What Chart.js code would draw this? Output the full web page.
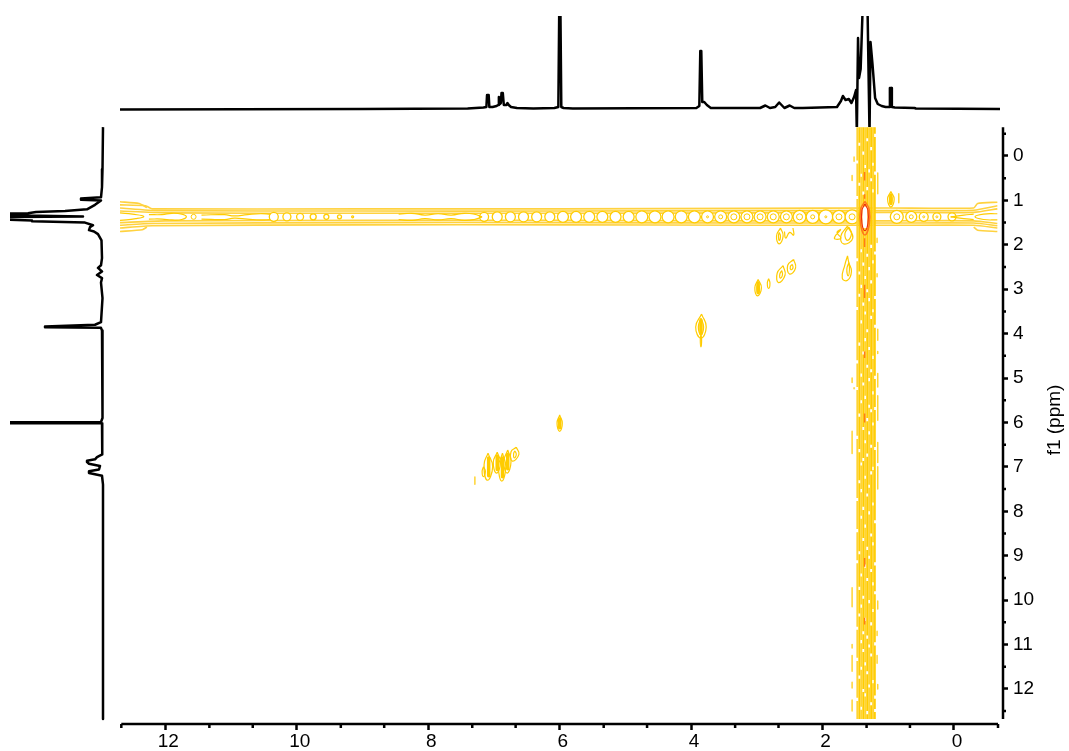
<!DOCTYPE html>
<html>
<head>
<meta charset="utf-8">
<title>COSY spectrum</title>
<script src="https://cdn.jsdelivr.net/npm/chart.js@4"></script>
<style>
  html, body { margin: 0; padding: 0; background: #fff; }
  canvas { position: absolute; }
</style>
</head>
<body>
<canvas id="main" width="1069" height="751" style="left:0;top:0"></canvas>
<canvas id="topTrace" width="883" height="111" style="left:120px;top:16px"></canvas>
<canvas id="leftTrace" width="112" height="597" style="left:10px;top:127px"></canvas>
<script>
// axis ticks (ppm)
const xTicks = [12, 10, 8, 6, 4, 2, 0];
const xMinorTicks = [12.67, 11.33, 10.67, 9.33, 8.67, 7.33, 6.67, 5.33, 4.67, 3.33, 2.67, 1.33, 0.67, -0.67];
const yTicks = [0, 1, 2, 3, 4, 5, 6, 7, 8, 9, 10, 11, 12];
const yMinorTicks = [-0.5, 0.5, 1.5, 2.5, 3.5, 4.5, 5.5, 6.5, 7.5, 8.5, 9.5, 10.5, 11.5, 12.5];

// 1D proton trace on top
const topPpm = [12.69, 9, 7.4, 7.16, 7.115, 7.105, 7.08, 7.07, 7.02, 6.96, 6.935, 6.925, 6.91, 6.895, 6.885, 6.865, 6.85, 6.81, 6.795, 6.775, 6.74, 6.65, 6.4, 6.08, 6.02, 6.005, 5.99, 5.975, 5.94, 5.8, 3.92, 3.875, 3.86, 3.845, 3.83, 3.8, 3.76, 3.7, 2.95, 2.87, 2.8, 2.72, 2.66, 2.58, 2.5, 2.43, 2.3, 1.78, 1.72, 1.69, 1.65, 1.6, 1.56, 1.52, 1.49, 1.478, 1.46, 1.445, 1.42, 1.38, 1.32, 1.285, 1.27, 1.24, 1.2, 1.16, 1.1, 1.04, 0.985, 0.975, 0.955, 0.945, 0.9, 0.6, 0.58, -0.7];
const topIntensity = [-0.5, 0, 0.5, 1.5, 2, 14, 14, 2, 2, 3, 4, 12, 5, 6, 16, 16, 4, 4, 6, 4, 2, 1, 0.5, 1, 2, 110, 110, 2, 1, 0.5, 1, 3, 58, 58, 7, 7, 4, 1, 1, 3.5, 1, 2, 6.5, 1, 3.5, 1, 1, 2, 8, 13, 9, 10, 6, 12, 19, -25, 71, 31, 40, 120, 120, -25, 67, 45, 11, 5, 3, 2, 2, 21, 21, 2, 1.5, 1, 0.5, 0];

// same trace turned sideways on the left
const leftPpm = [-0.65, 0.3, 0.7, 0.93, 0.955, 0.985, 1.0, 1.1, 1.2, 1.24, 1.26, 1.29, 1.3, 1.33, 1.36, 1.38, 1.42, 1.45, 1.47, 1.5, 1.56, 1.6, 1.67, 1.7, 1.76, 1.9, 2.3, 2.46, 2.52, 2.6, 2.68, 2.75, 2.85, 3.2, 3.74, 3.8, 3.84, 3.855, 3.87, 3.93, 5.9, 5.99, 5.995, 6.015, 6.02, 6.5, 6.72, 6.78, 6.83, 6.86, 6.89, 6.93, 6.98, 7.06, 7.1, 7.14, 7.2, 7.4, 12.68];
const leftIntensity = [0, 0.5, 1, 2, 22, 22, 2, 8, 16, 38, 67, 75, 110, 110, 20, 110, 110, 71, 71, 18, 10, 13, 14, 9, 5, 1.5, 1, 2, 5, 1, 6, 1, 2, 0.5, 2, 8, 58, 58, 2, 1, 0.5, 2, 110, 110, 1, 0.5, 1, 6, 8, 16, 16, 14, 3, 4, 14, 14, 1, 0, 0];

// contour rings sitting on the f1 = 1.37 ppm ridge
const ridgeY = 1.37;
const ringPpm = [10.35, 10.15, 9.95, 9.75, 9.55, 9.35, 9.15, 7.15, 6.95, 6.75, 6.55, 6.35, 6.15, 5.95, 5.75, 5.55, 5.35, 5.15, 4.95, 4.75, 4.55, 4.35, 4.15, 3.95, 3.75, 3.55, 3.35, 3.15, 2.95, 2.75, 2.55, 2.35, 2.15, 1.95, 1.75, 1.55, 0.87, 0.65, 0.46, 0.26, 0.03];
const ringSize = [4.5, 4, 3.5, 3, 2.5, 2, 1, 4.5, 5, 5, 5, 5, 5, 5.5, 5.5, 5.5, 5.5, 5.5, 5.5, 6, 6, 6, 6, 6, 6, 6, 6, 6, 6, 6, 6, 6.5, 6.5, 7, 6.5, 7, 6.5, 5.5, 4.5, 4, 4];
const innerRingPpm = [3.75, 3.55, 3.35, 3.15, 2.95, 2.75, 2.55, 2.35, 2.15, 1.95, 1.75, 1.55, 0.87, 0.65, 0.46, 0.26, 11.57];
const innerRingSize = [1, 2, 3, 3, 3, 3, 3, 3, 2, 1, 3, 3, 3, 2, 1, 1, 2.5];

// lines of the ridge walls, as ppm pairs
const wallTopA = [[12.69, 1.03], [12.4, 1.07], [12.28, 1.16]];
const wallTopB = [[12.69, 1.1], [12.3, 1.12], [12.2, 1.19], [9, 1.19], [6, 1.19], [3, 1.18], [1, 1.17], [-0.3, 1.17], [-0.36, 1.07], [-0.66, 1.04]];
const wallTopC = [[12.69, 1.17], [12.1, 1.23], [9, 1.24], [6, 1.24], [3, 1.23], [1, 1.23], [-0.3, 1.22], [-0.66, 1.12]];
const wallTopD = [[12.69, 1.24], [12, 1.28], [9, 1.29], [6, 1.29], [3, 1.28], [1, 1.27], [-0.3, 1.27], [-0.66, 1.19]];
const wallBottomA = [[12.69, 1.5], [12, 1.46], [9, 1.45], [6, 1.45], [3, 1.46], [1, 1.46], [-0.3, 1.46], [-0.66, 1.52]];
const wallBottomB = [[12.69, 1.56], [12.2, 1.52], [9, 1.5], [6, 1.5], [3, 1.51], [1, 1.51], [-0.3, 1.51], [-0.66, 1.57]];
const wallBottomC = [[12.69, 1.62], [12.2, 1.57], [9, 1.55], [6, 1.55], [3, 1.56], [1, 1.56], [-0.3, 1.56], [-0.66, 1.62]];
const wallBottomD = [[12.69, 1.7], [12.35, 1.66], [12.28, 1.6]];
const wallBottomE = [[-0.3, 1.6], [-0.36, 1.67], [-0.66, 1.7]];

// inner wavy contours of the ridge
const waveA = [[12.69, 1.28], [12.5, 1.31], [12.33, 1.36], [12.45, 1.41], [12.69, 1.45]];
const waveB = [[12.25, 1.32], [12.05, 1.32], [11.9, 1.29], [11.75, 1.31], [11.68, 1.37], [11.75, 1.43], [11.9, 1.44], [12.05, 1.42], [12.25, 1.42]];
const waveC = [[11.45, 1.33], [11.1, 1.32], [10.95, 1.35], [10.75, 1.32], [10.55, 1.3], [10.4, 1.31]];
const waveD = [[11.45, 1.42], [11.1, 1.43], [10.95, 1.4], [10.75, 1.42], [10.55, 1.44], [10.4, 1.43]];
const waveE = [[8.45, 1.31], [8.25, 1.29], [8.05, 1.33], [7.85, 1.3], [7.65, 1.33], [7.45, 1.29], [7.3, 1.31], [7.18, 1.37]];
const waveF = [[8.45, 1.43], [8.25, 1.45], [8.05, 1.41], [7.85, 1.44], [7.65, 1.41], [7.45, 1.45], [7.3, 1.43], [7.18, 1.37]];
const waveG = [[-0.66, 1.3], [-0.45, 1.31], [-0.32, 1.37], [-0.45, 1.43], [-0.66, 1.44]];
const waveH = [[-0.3, 1.31], [-0.15, 1.33], [0.05, 1.37]];
const waveI = [[-0.3, 1.43], [-0.15, 1.41], [0.05, 1.37]];

// diagonal and cross peaks, outlines in ppm
const peak6a = [[6.0, 5.83], [6.04, 6.02], [6.0, 6.2], [5.96, 6.02], [6.0, 5.83]];
const peak38a = [[3.84, 3.56], [3.93, 3.85], [3.85, 4.1], [3.77, 3.85], [3.84, 3.56]];
const peak38b = [[3.85, 3.65], [3.89, 3.85], [3.85, 4.02], [3.81, 3.85], [3.85, 3.65]];
const peak38d = [[3.85, 4.0], [3.86, 4.15], [3.85, 4.3], [3.84, 4.15], [3.85, 4.0]];
const peak298a = [[2.98, 2.78], [3.03, 2.97], [2.99, 3.15], [2.93, 2.97], [2.98, 2.78]];
const peak298b = [[2.98, 2.86], [3.0, 2.97], [2.98, 3.08], [2.96, 2.97], [2.98, 2.86]];
const peak282 = [[2.82, 2.76], [2.84, 2.86], [2.82, 2.98], [2.8, 2.86], [2.82, 2.76]];
const peak263a = [[2.6, 2.47], [2.69, 2.64], [2.67, 2.85], [2.57, 2.68], [2.6, 2.47]];
const peak263b = [[2.62, 2.58], [2.65, 2.66], [2.64, 2.75], [2.61, 2.68], [2.62, 2.58]];
const peak247a = [[2.44, 2.33], [2.53, 2.46], [2.5, 2.66], [2.41, 2.52], [2.44, 2.33]];
const peak247b = [[2.46, 2.44], [2.49, 2.49], [2.48, 2.56], [2.45, 2.52], [2.46, 2.44]];
const peakA1 = [[7.09, 6.69], [7.15, 6.95], [7.1, 7.3], [7.02, 7.0], [7.09, 6.69]];
const peakA3 = [[7.16, 7.0], [7.18, 7.1], [7.16, 7.22], [7.13, 7.1], [7.16, 7.0]];
const peakB1 = [[6.95, 6.67], [7.01, 6.9], [6.96, 7.14], [6.9, 6.9], [6.95, 6.67]];
const peakC1 = [[6.87, 6.69], [6.93, 7.0], [6.88, 7.32], [6.82, 7.0], [6.87, 6.69]];
const peakD1 = [[6.79, 6.62], [6.85, 6.88], [6.8, 7.14], [6.74, 6.88], [6.79, 6.62]];
const peakE1 = [[6.66, 6.56], [6.74, 6.66], [6.72, 6.87], [6.62, 6.72], [6.66, 6.56]];
const peakE2 = [[6.68, 6.64], [6.7, 6.7], [6.69, 6.8], [6.66, 6.72], [6.68, 6.64]];
const crossA = [[2.64, 1.62], [2.7, 1.8], [2.66, 1.98], [2.6, 1.8], [2.64, 1.62]];
const crossB = [[2.66, 1.72], [2.67, 1.8], [2.66, 1.9], [2.64, 1.8], [2.66, 1.72]];
const crossC = [[2.45, 1.62], [2.44, 1.78], [2.5, 1.72], [2.56, 1.85], [2.58, 1.7]];
const crossD = [[1.72, 1.65], [1.78, 1.72], [1.72, 1.85], [1.82, 1.85], [1.72, 1.65]];
const crossE = [[1.62, 1.58], [1.72, 1.8], [1.68, 1.98], [1.54, 1.85], [1.62, 1.58]];
const crossJ = [[1.6, 1.6], [1.66, 1.75], [1.62, 1.9], [1.56, 1.75], [1.6, 1.6]];
const crossF = [[1.62, 2.25], [1.66, 2.45], [1.7, 2.75], [1.62, 2.8], [1.56, 2.6], [1.6, 2.4], [1.62, 2.25]];
const crossG = [[1.6, 2.4], [1.63, 2.55], [1.61, 2.7], [1.59, 2.55], [1.6, 2.4]];
const crossH = [[0.96, 0.8], [1.01, 0.97], [0.96, 1.15], [0.91, 0.97], [0.96, 0.8]];
const crossI = [[0.96, 0.88], [0.98, 0.97], [0.96, 1.07], [0.94, 0.97], [0.96, 0.88]];

const contourOutlines = [peak6a, peak38a, peak38b, peak38d, peak298a, peak298b, peak282, peak263a, peak263b, peak247a, peak247b,
  peakA1, peakA3, peakB1, peakC1, peakD1, peakE1, peakE2,
  crossA, crossB, crossC, crossD, crossE, crossJ, crossF, crossG, crossH, crossI,
  waveA, waveB, waveC, waveD, waveE, waveF, waveG, waveH, waveI];
const ridgeWalls = [wallTopA, wallTopB, wallTopC, wallTopD, wallBottomA, wallBottomB, wallBottomC, wallBottomD, wallBottomE];

// solid middles of the stronger peaks
const coreX = [7.08, 6.95, 6.87, 6.79, 6.0, 3.85, 2.98, 0.96];
const coreTop = [6.8, 6.76, 6.8, 6.72, 5.92, 3.7, 2.86, 0.88];
const coreBottom = [7.2, 7.06, 7.22, 7.04, 6.12, 4.0, 3.08, 1.07];

// small isolated streaks next to the vertical ridge
const speckX = [1.52, 1.55, 1.16, 1.16, 1.17, 1.17, 1.16, 1.16, 1.16, 1.16, 1.55, 1.52, 1.55, 1.55, 1.16, 1.55, 1.55, 1.55, 1.55, 1.17, 1.17, 1.16, 7.29, 1.16, 1.16, 0.84];
const speckTop = [0.02, 0.44, 0.38, 0.66, 1.85, 2.65, 3.9, 4.4, 4.9, 5.4, 5.0, 5.22, 6.2, 9.72, 10.02, 11.0, 11.25, 11.85, 12.25, 11.25, 10.7, 11.9, 7.23, 6.45, 7.0, 0.85];
const speckBottom = [0.12, 0.55, 0.7, 0.85, 1.95, 2.72, 4.15, 4.45, 5.2, 5.95, 5.1, 5.24, 6.7, 10.15, 10.2, 11.08, 11.6, 11.98, 12.5, 11.42, 10.8, 12.0, 7.39, 6.9, 7.5, 1.05];

// vertical ridge: columns of streaks, with the y of each small break
const columnPpm = [1.47, 1.44, 1.41, 1.38, 1.35, 1.32, 1.29, 1.26, 1.23, 1.205];
const columnBreaks0 = [0.1, 0.9, 2.3, 3.4, 4.6, 5.2, 6.3, 7.7, 8.4, 9.1, 10.6, 11.3, 12.2];
const columnBreaks1 = [-0.3, 0.6, 2.6, 3.1, 4.2, 5.8, 6.6, 7.3, 8.9, 9.7, 10.3, 11.7];
const columnBreaks2 = [0.4, 2.1, 2.9, 3.7, 4.9, 5.5, 6.9, 7.5, 8.1, 9.4, 10.1, 10.9, 11.5, 12.4];
const columnBreaks3 = [-0.1, 0.8, 2.4, 3.3, 4.4, 5.1, 6.1, 6.8, 7.9, 8.6, 9.9, 10.7, 11.1, 12.0];
const columnBreaks4 = [0.2, 2.7, 3.5, 4.1, 5.4, 6.4, 7.2, 8.3, 9.2, 10.4, 11.4, 12.1];
const columnBreaks5 = [-0.4, 0.7, 2.2, 3.0, 3.9, 4.7, 5.9, 6.7, 7.6, 8.8, 9.5, 10.8, 11.6, 12.5];
const columnBreaks6 = [0.3, 2.5, 3.2, 4.3, 5.0, 5.6, 6.2, 7.4, 8.0, 9.0, 10.0, 11.0, 11.9];
const columnBreaks7 = [-0.2, 0.5, 2.0, 2.8, 3.6, 4.8, 5.7, 6.5, 7.1, 8.5, 9.3, 10.5, 11.2, 12.3];
const columnBreaks8 = [0.15, 0.75, 2.35, 3.45, 4.5, 5.3, 6.0, 7.0, 7.8, 8.7, 9.6, 10.2, 11.8];
const columnBreaks9 = [-0.5, 0.35, 2.15, 3.15, 3.8, 4.95, 5.65, 6.55, 8.2, 9.15, 9.8, 10.95, 12.15, 12.45];
const columnBreaks = [columnBreaks0, columnBreaks1, columnBreaks2, columnBreaks3, columnBreaks4, columnBreaks5, columnBreaks6, columnBreaks7, columnBreaks8, columnBreaks9];

// hot spot at the centre and the orange flecks along the ridge
const hotOuter = [[1.355, 1.02], [1.42, 1.2], [1.42, 1.55], [1.355, 1.78], [1.29, 1.55], [1.29, 1.2], [1.355, 1.02]];
const hotInner = [[1.355, 1.08], [1.4, 1.22], [1.4, 1.52], [1.355, 1.68], [1.31, 1.52], [1.31, 1.22], [1.355, 1.08]];
const hotWhite = [[1.355, 1.14], [1.355, 1.62]];
const fleckX = [1.36, 1.36, 1.36, 1.36, 1.36, 1.36, 1.36, 1.36];
const fleckTop = [0.36, 0.86, 1.85, 2.9, 4.4, 5.8, 9.05, 10.4];
const fleckBottom = [0.55, 0.96, 2.05, 3.2, 4.55, 6.0, 9.25, 10.55];

const YELLOW = "#ffcc00";
const WALL = "#ffd23f";
const PALE = "#ffd433";
const ORANGE = "#ff7a1a";
const RED = "#ee2a10";

const toPoints = (pairs) => pairs.map((p) => ({ x: p[0], y: p[1] }));

function lineDataset(pairs, color, width, order, tension) {
  return {
    data: toPoints(pairs),
    showLine: true,
    borderColor: color,
    borderWidth: width,
    pointRadius: 0,
    tension: tension,
    order: order,
    clip: 0,
  };
}

// vertical pieces between breaks, null keeps them apart
function columnPoints(x, breaks) {
  const pts = [];
  let from = -0.65;
  breaks.forEach((b) => {
    pts.push({ x: x, y: from }, { x: x, y: b }, { x: x, y: null });
    from = b + 0.07;
  });
  pts.push({ x: x, y: from }, { x: x, y: 12.68 });
  return pts;
}

function barPoints(xs, tops, bottoms) {
  const pts = [];
  xs.forEach((x, i) => {
    pts.push({ x: x, y: tops[i] }, { x: x, y: bottoms[i] }, { x: x, y: null });
  });
  return pts;
}

const datasets = [];
datasets.push(lineDataset(hotWhite, "#ffffff", 5, 1, 0));
datasets.push(lineDataset(hotInner, RED, 1.2, 0, 0.4));
datasets.push(lineDataset(hotOuter, ORANGE, 1.5, 2, 0.4));
datasets.push({
  data: barPoints(fleckX, fleckTop, fleckBottom),
  showLine: true, borderColor: ORANGE, borderWidth: 1.5, pointRadius: 0, order: 3, clip: 0,
});
columnPpm.forEach((x, i) => {
  datasets.push({
    data: columnPoints(x, columnBreaks[i]),
    showLine: true, borderColor: i % 2 ? YELLOW : PALE, borderWidth: 2, pointRadius: 0, order: 4, clip: 0,
  });
});
datasets.push({
  data: barPoints(speckX, speckTop, speckBottom),
  showLine: true, borderColor: PALE, borderWidth: 1.5, borderCapStyle: "round", pointRadius: 0, order: 5, clip: 0,
});
datasets.push({
  data: barPoints(coreX, coreTop, coreBottom),
  showLine: true, borderColor: YELLOW, borderWidth: 3.5, borderCapStyle: "round", pointRadius: 0, order: 5, clip: 0,
});
contourOutlines.forEach((c) => datasets.push(lineDataset(c, YELLOW, 1.2, 6, 0.5)));
ridgeWalls.forEach((c) => datasets.push(lineDataset(c, WALL, 1.6, 8, 0.2)));
// rings blank out the walls behind them, the way the contours open up in the reference
datasets.push({
  data: ringPpm.map((x) => ({ x: x, y: ridgeY })),
  pointStyle: "circle",
  pointRadius: ringSize,
  pointBackgroundColor: "#ffffff",
  pointBorderColor: YELLOW,
  pointBorderWidth: 1.3,
  order: 7,
  clip: 0,
});
datasets.push({
  data: innerRingPpm.map((x) => ({ x: x, y: ridgeY })),
  pointStyle: "circle",
  pointRadius: innerRingSize,
  pointBackgroundColor: "#ffffff",
  pointBorderColor: YELLOW,
  pointBorderWidth: 1,
  order: 6,
  clip: 0,
});

// axis lines and minor ticks sit a little away from the plot, so they go here
const axisPlugin = {
  id: "axisLines",
  afterDraw(chart) {
    const { ctx, scales } = chart;
    const xs = scales.x;
    const ys = scales.y;
    const axisY = chart.chartArea.bottom;
    const axisX = chart.chartArea.right;
    ctx.save();
    ctx.strokeStyle = "#000";
    ctx.lineWidth = 2.5;
    ctx.beginPath();
    ctx.moveTo(xs.getPixelForValue(12.67), axisY);
    ctx.lineTo(xs.getPixelForValue(-0.67), axisY);
    ctx.moveTo(axisX, ys.getPixelForValue(-0.65));
    ctx.lineTo(axisX, ys.getPixelForValue(12.68));
    xMinorTicks.forEach((v) => {
      ctx.moveTo(xs.getPixelForValue(v), axisY);
      ctx.lineTo(xs.getPixelForValue(v), axisY + 4);
    });
    yMinorTicks.forEach((v) => {
      ctx.moveTo(axisX, ys.getPixelForValue(v));
      ctx.lineTo(axisX + 3, ys.getPixelForValue(v));
    });
    ctx.stroke();
    // the f1 label reads upward on the right side
    ctx.translate(1055, 420);
    ctx.rotate(-Math.PI / 2);
    ctx.fillStyle = "#000";
    ctx.font = '19px "Liberation Sans"';
    ctx.textAlign = "center";
    ctx.textBaseline = "middle";
    ctx.fillText("f1 (ppm)", 0, 0);
    ctx.restore();
  },
};

new Chart(document.getElementById("main"), {
  type: "scatter",
  data: { datasets: datasets },
  plugins: [axisPlugin],
  options: {
    responsive: false,
    animation: false,
    events: [],
    layout: { padding: { left: 120, top: 127, right: 0, bottom: 0 } },
    plugins: { legend: { display: false }, tooltip: { enabled: false } },
    scales: {
      x: {
        type: "linear",
        reverse: true,
        min: -0.746,
        max: 12.69,
        afterBuildTicks: (scale) => { scale.ticks = xTicks.map((v) => ({ value: v })); },
        afterFit: (scale) => { scale.height = 27; },
        border: { display: false },
        grid: { drawOnChartArea: false, tickLength: 6, tickWidth: 2.5, tickColor: "#000" },
        ticks: {
          color: "#000",
          font: { family: "Liberation Sans", size: 19 },
          autoSkip: false,
          maxRotation: 0,
          padding: 0,
          labelOffset: 3,
          callback: (v) => String(v),
        },
      },
      y: {
        type: "linear",
        position: "right",
        reverse: true,
        min: -0.653,
        max: 12.79,
        afterBuildTicks: (scale) => { scale.ticks = yTicks.map((v) => ({ value: v })); },
        afterFit: (scale) => { scale.width = 66; },
        border: { display: false },
        grid: { drawOnChartArea: false, tickLength: 5, tickWidth: 2.5, tickColor: "#000" },
        ticks: {
          color: "#000",
          font: { family: "Liberation Sans", size: 19 },
          autoSkip: false,
          padding: 5,
          labelOffset: 0,
          callback: (v) => String(v),
        },
      },
    },
  },
});

const traceOptions = (xScale, yScale) => ({
  responsive: false,
  animation: false,
  events: [],
  layout: { padding: 0 },
  plugins: { legend: { display: false }, tooltip: { enabled: false } },
  scales: { x: xScale, y: yScale },
});

const traceLine = (points) => ({
  data: points,
  showLine: true,
  borderColor: "#000",
  borderWidth: 2.5,
  borderJoinStyle: "round",
  pointRadius: 0,
  tension: 0,
});

new Chart(document.getElementById("topTrace"), {
  type: "scatter",
  data: { datasets: [traceLine(topPpm.map((x, i) => ({ x: x, y: topIntensity[i] })))] },
  options: traceOptions(
    { type: "linear", display: false, reverse: true, min: -0.746, max: 12.69 },
    { type: "linear", display: false, min: -18, max: 93 }
  ),
});

new Chart(document.getElementById("leftTrace"), {
  type: "scatter",
  data: { datasets: [traceLine(leftPpm.map((y, i) => ({ x: leftIntensity[i], y: y })))] },
  options: traceOptions(
    { type: "linear", display: false, reverse: true, min: -19, max: 93 },
    { type: "linear", display: false, reverse: true, min: -0.653, max: 12.79 }
  ),
});
</script>
</body>
</html>
